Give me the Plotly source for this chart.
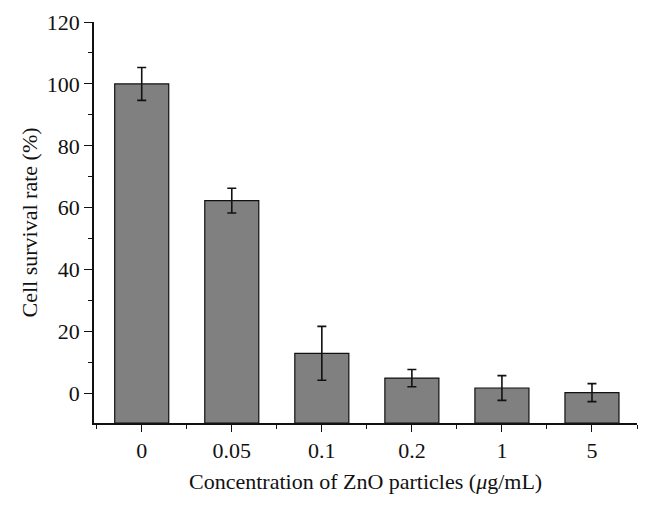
import plotly.graph_objects as go

categories = ["0", "0.05", "0.1", "0.2", "1", "5"]
survival = [100.0, 62.3, 13.0, 5.0, 1.8, 0.3]
errors = [5.3, 4.0, 8.7, 2.8, 4.0, 2.9]
y_ticks = [0, 20, 40, 60, 80, 100, 120]

Y_MIN, Y_MAX = -9.5, 120
x_pos = list(range(len(categories)))

FONT = "Liberation Serif"
FS = 22

fig = go.Figure()
fig.add_trace(go.Bar(
    x=x_pos,
    y=[v - Y_MIN for v in survival],
    base=Y_MIN,
    width=0.6,
    marker=dict(color="#808080", line=dict(color="#111111", width=1.2)),
    error_y=dict(type="data", array=errors, visible=True,
                 color="#111111", thickness=1.6, width=4.5),
    showlegend=False,
))

# page body has an 8px default margin, so margins are reduced accordingly
fig.update_layout(
    width=651, height=506,
    margin=dict(l=86, r=22, t=14, b=91),
    paper_bgcolor="white", plot_bgcolor="white",
    font=dict(family=FONT, size=FS, color="#111111"),
    annotations=[
        dict(text="Concentration of ZnO particles (<i>μ</i>g/mL)",
             xref="paper", yref="paper", x=0.5, y=-0.145,
             xanchor="center", yanchor="middle", showarrow=False,
             font=dict(family=FONT, size=FS, color="#111111")),
        dict(text="Cell survival rate (%)", textangle=-90,
             xref="paper", yref="paper", x=-0.118, y=0.5,
             xanchor="center", yanchor="middle", showarrow=False,
             font=dict(family=FONT, size=FS, color="#111111")),
    ],
)
fig.update_xaxes(
    range=[-0.53, 5.5], automargin=False,
    tickmode="array", tickvals=x_pos, ticktext=categories,
    ticks="outside", ticklen=7, tickwidth=1.3, tickcolor="#111111",
    minor=dict(tickmode="array", tickvals=[i + 0.5 for i in range(-1, len(categories))],
               ticks="outside", ticklen=4, tickwidth=1.3, tickcolor="#111111"),
    showline=True, linecolor="#111111", linewidth=1.6,
    showgrid=False, zeroline=False,
    tickfont=dict(family=FONT, size=FS),
)
fig.update_yaxes(
    range=[Y_MIN, Y_MAX], automargin=False,
    tickmode="array", tickvals=y_ticks,
    ticks="outside", ticklen=8, tickwidth=1.3, tickcolor="#111111",
    minor=dict(tickmode="array", tickvals=[t + 10 for t in y_ticks[:-1]],
               ticks="outside", ticklen=4, tickwidth=1.3, tickcolor="#111111"),
    showline=True, linecolor="#111111", linewidth=1.6,
    showgrid=False, zeroline=False,
    tickfont=dict(family=FONT, size=FS),
)

fig.write_html("out.html")
